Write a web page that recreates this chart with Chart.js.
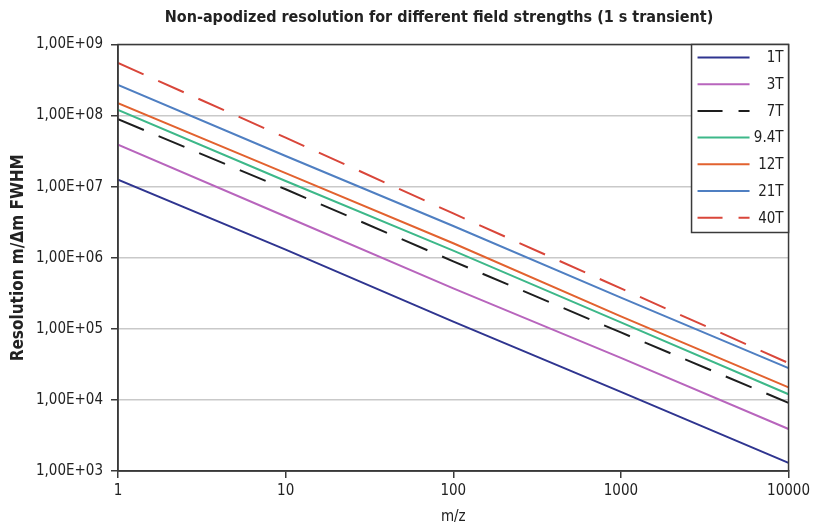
<!DOCTYPE html>
<html>
<head>
<meta charset="utf-8">
<script src="https://cdn.jsdelivr.net/npm/chart.js@4.4.1/dist/chart.umd.min.js"></script>
<style>
  html, body { margin: 0; padding: 0; background: #fff; }
  #wrap { width: 814px; height: 526px; }
</style>
</head>
<body>
<div id="wrap"><canvas id="c" width="814" height="526"></canvas></div>
<script>
// m/z sample points and resolution
const mz = [1, 10, 100, 1000, 10000];
const r1T = [1.25e7, 1.3e6, 1.26e5, 1.3e4, 1.3e3];
const r3T = [3.9e7, 3.8e6, 3.7e5, 3.9e4, 3.9e3];
const r7T = [8.9e7, 9.2e6, 8.9e5, 8.9e4, 9.1e3];
const r94T = [1.2e8, 1.2e7, 1.26e6, 1.23e5, 1.2e4];
const r12T = [1.5e8, 1.55e7, 1.6e6, 1.5e5, 1.5e4];
const r21T = [2.7e8, 2.7e7, 2.8e6, 2.75e5, 2.8e4];
const r40T = [5.5e8, 4.9e7, 4.2e6, 3.7e5, 3.3e4];

const xTicks = [1, 10, 100, 1000, 10000];
const xTickLabels = ['1', '10', '100', '1000', '10000'];
const yTicks = [1e3, 1e4, 1e5, 1e6, 1e7, 1e8, 1e9];
const yTickLabels = ['1,00E+03', '1,00E+04', '1,00E+05', '1,00E+06', '1,00E+07', '1,00E+08', '1,00E+09'];

const TITLE = 'Non-apodized resolution for different field strengths (1 s transient)';
const FONT = '"Liberation Sans Narrow", "DejaVu Sans Condensed", "Liberation Sans", sans-serif';
const AXIS = '#3a3a3a';

function pts(ys) {
    return mz.map((x, i) => ({ x, y: ys[i] }));
}

function line(label, ys, color, dash) {
    return {
        label,
        data: pts(ys),
        borderColor: color,
        backgroundColor: color,
        borderWidth: 2,
        borderDash: dash || [],
        pointRadius: 0,
        tension: 0
    };
}

// title (off-centre like the source), frame round the plot, legend box top right
const framePlugin = {
    id: 'frame',
    afterDraw(chart) {
        const { ctx, chartArea: a } = chart;
        ctx.save();
        ctx.fillStyle = '#222';
        ctx.font = 'bold 16px ' + FONT;
        ctx.textAlign = 'center';
        ctx.textBaseline = 'middle';
        ctx.fillText(TITLE, 439, 18);

        ctx.strokeStyle = AXIS;
        ctx.lineWidth = 1.5;
        ctx.strokeRect(a.left, a.top, a.right - a.left, a.bottom - a.top);

        const w = 97, h = 188;
        const bx = a.right - w, by = a.top;
        ctx.fillStyle = '#fff';
        ctx.fillRect(bx, by, w, h);
        ctx.strokeRect(bx, by, w, h);

        ctx.font = '15px ' + FONT;
        ctx.textAlign = 'right';
        chart.data.datasets.forEach((ds, i) => {
            const y = by + 13 + i * 26.7;
            ctx.beginPath();
            ctx.strokeStyle = ds.borderColor;
            ctx.lineWidth = 2;
            ctx.setLineDash(ds.borderDash.length ? [25, 16] : []);
            ctx.moveTo(bx + 6, y);
            ctx.lineTo(bx + 58, y);
            ctx.stroke();
            ctx.setLineDash([]);
            ctx.fillStyle = '#222';
            ctx.fillText(ds.label, a.right - 5, y + 1);
        });
        ctx.restore();
    }
};

new Chart(document.getElementById('c'), {
    type: 'line',
    data: {
        datasets: [
            line('1T', r1T, '#2f3590'),
            line('3T', r3T, '#b865bd'),
            line('7T', r7T, '#1e1e1e', [28, 16]),
            line('9.4T', r94T, '#3db889'),
            line('12T', r12T, '#e2622f'),
            line('21T', r21T, '#4f7fc2'),
            line('40T', r40T, '#d9463a', [28, 16])
        ]
    },
    options: {
        responsive: false,
        animation: false,
        layout: { padding: { left: 0, right: 24, top: 44.5, bottom: 0 } },
        plugins: {
            legend: { display: false },
            tooltip: { enabled: false },
            title: { display: false }
        },
        scales: {
            x: {
                type: 'logarithmic',
                min: 1,
                max: 10000,
                afterBuildTicks: s => { s.ticks = xTicks.map(v => ({ value: v })); },
                afterFit: s => { s.height = 55; },
                ticks: {
                    color: '#222',
                    font: { family: FONT, size: 15 },
                    padding: 4,
                    maxRotation: 0,
                    autoSkip: false,
                    callback: (v, i) => xTickLabels[i]
                },
                grid: { drawOnChartArea: false, drawTicks: true, tickLength: 7, tickColor: AXIS, lineWidth: 1.5 },
                border: { color: AXIS, width: 1.5 },
                title: {
                    display: true,
                    text: 'm/z',
                    color: '#222',
                    font: { family: FONT, size: 15 },
                    padding: { top: 4, bottom: 0 }
                }
            },
            y: {
                type: 'logarithmic',
                min: 1e3,
                max: 1e9,
                afterBuildTicks: s => { s.ticks = yTicks.map(v => ({ value: v })); },
                afterFit: s => { s.width = 118; },
                ticks: {
                    color: '#222',
                    font: { family: FONT, size: 15 },
                    padding: 8,
                    autoSkip: false,
                    callback: (v, i) => yTickLabels[i]
                },
                grid: { color: '#c9c9c9', lineWidth: 1.5, tickLength: 7, tickColor: AXIS },
                border: { color: AXIS, width: 1.5 },
                title: {
                    display: true,
                    text: 'Resolution m/\u0394m FWHM',
                    color: '#222',
                    font: { family: FONT, size: 17, weight: 'bold' },
                    padding: { top: 8, bottom: 0 }
                }
            }
        }
    },
    plugins: [framePlugin]
});
</script>
</body>
</html>
